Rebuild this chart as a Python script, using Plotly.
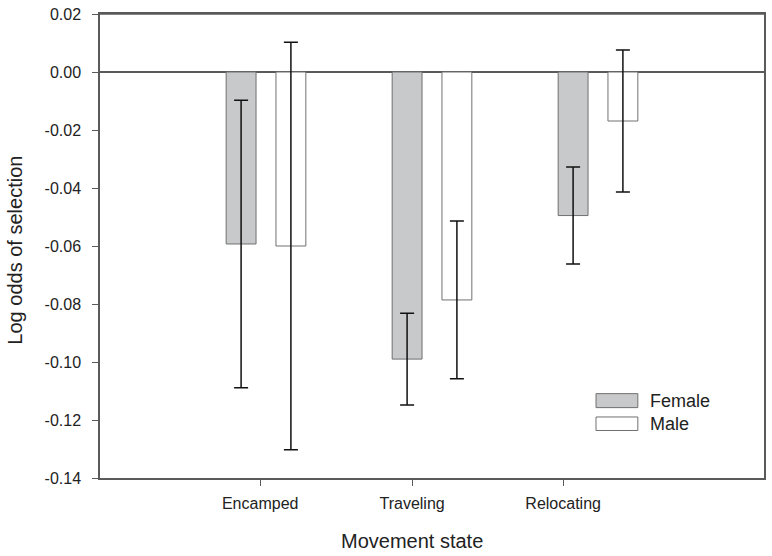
import plotly.graph_objects as go

# ---- data ----
categories = ["Encamped", "Traveling", "Relocating"]
female_mean = [-0.0593, -0.0990, -0.0495]
female_err = [0.0496, 0.0158, 0.0167]
male_mean = [-0.0600, -0.0786, -0.0169]
male_err = [0.0703, 0.0272, 0.0245]
y_tick_vals = [0.02, 0.00, -0.02, -0.04, -0.06, -0.08, -0.10, -0.12, -0.14]
y_tick_text = ["0.02", "0.00", "-0.02", "-0.04", "-0.06", "-0.08", "-0.10", "-0.12", "-0.14"]

FONT = "Liberation Sans, Arial, sans-serif"
AXIS_COLOR = "#5a5a5a"
TEXT_COLOR = "#222222"

x_idx = list(range(len(categories)))
# category tick positions (SigmaPlot-style, offset from group centres)
tick_pos = [-0.035, 0.88, 1.79]

fig = go.Figure()
fig.add_trace(go.Bar(
    x=x_idx, y=female_mean, name="Female",
    offset=-0.24, width=0.18,
    marker=dict(color="#c8c9cb", line=dict(color="#707070", width=1)),
    error_y=dict(type="data", array=female_err, visible=True,
                 color="#111111", thickness=1.5, width=7),
    showlegend=False,
))
fig.add_trace(go.Bar(
    x=x_idx, y=male_mean, name="Male",
    offset=0.06, width=0.18,
    marker=dict(color="#ffffff", line=dict(color="#707070", width=1)),
    error_y=dict(type="data", array=male_err, visible=True,
                 color="#111111", thickness=1.5, width=7),
    showlegend=False,
))

# top frame line (ensure visible)
fig.add_shape(type="line", xref="paper", yref="paper", x0=0, x1=1, y0=1, y1=1,
              line=dict(color=AXIS_COLOR, width=1.5))

# manual legend
legend_items = [("Female", "#c8c9cb", 0.1818, 0.1517, 0.167),
                ("Male", "#ffffff", 0.1315, 0.1024, 0.117)]
for label, col, ytop, ybot, ytxt in legend_items:
    fig.add_shape(type="rect", xref="paper", yref="paper",
                  x0=0.747, x1=0.810, y0=ybot, y1=ytop,
                  fillcolor=col, line=dict(color="#707070", width=1))
    fig.add_annotation(xref="paper", yref="paper", x=0.825, y=ytxt,
                       text=label, showarrow=False, xanchor="left",
                       yanchor="middle",
                       font=dict(family=FONT, size=18, color=TEXT_COLOR))

# axis titles
fig.add_annotation(xref="x", yref="paper", x=0.88, y=-0.108,
                   text="Movement state", showarrow=False,
                   xanchor="center", yanchor="top",
                   font=dict(family=FONT, size=20, color=TEXT_COLOR))
fig.add_annotation(xref="paper", yref="paper", x=-0.128, y=0.49,
                   text="Log odds of selection", showarrow=False,
                   textangle=-90, xanchor="center", yanchor="middle",
                   font=dict(family=FONT, size=20, color=TEXT_COLOR))

fig.update_layout(
    width=772, height=556,
    margin=dict(l=100, r=6, t=12, b=78),
    paper_bgcolor="white", plot_bgcolor="white",
    barmode="overlay",
    font=dict(family=FONT, size=16, color=TEXT_COLOR),
    xaxis=dict(
        range=[-1, 3], showgrid=False, zeroline=False,
        showline=True, linecolor=AXIS_COLOR, linewidth=1.5, mirror=True,
        ticks="outside", ticklen=6, tickwidth=1.2, tickcolor=AXIS_COLOR,
        tickvals=tick_pos, ticktext=categories,
        tickfont=dict(family=FONT, size=16, color=TEXT_COLOR),
        ticklabelstandoff=4,
    ),
    yaxis=dict(
        range=[-0.14, 0.02], showgrid=False,
        zeroline=True, zerolinecolor=AXIS_COLOR, zerolinewidth=1.5,
        showline=True, linecolor=AXIS_COLOR, linewidth=1.5, mirror=True,
        ticks="outside", ticklen=6, tickwidth=1.2, tickcolor=AXIS_COLOR,
        tickvals=y_tick_vals, ticktext=y_tick_text,
        tickfont=dict(family=FONT, size=16, color=TEXT_COLOR),
        ticklabelstandoff=8,
    ),
)

# remove the browser's default 8px page margin so the figure sits at (0, 0)
fig.write_html("out.html", config={"displayModeBar": False},
               post_script="document.body.style.margin='0px';")
